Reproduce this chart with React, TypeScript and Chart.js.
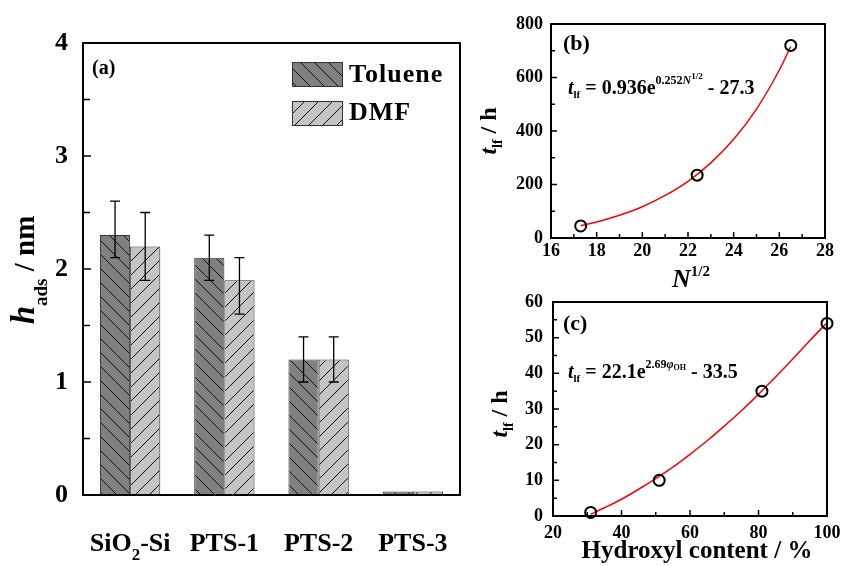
import React, { useEffect, useRef } from 'react';
import { Chart, registerables } from 'chart.js';

Chart.register(...registerables);

const FAMILY = "'Liberation Serif', 'Times New Roman', serif";

// ---------- Panel (a) data ----------
const categories = ['SiO2-Si', 'PTS-1', 'PTS-2', 'PTS-3'];
const seriesNames = ['Toluene', 'DMF'];
const tolueneValues = [2.3, 2.1, 1.2, 0.03];
const dmfValues = [2.2, 1.9, 1.2, 0.03];
const tolueneErrLow: (number | null)[] = [2.1, 1.9, 1.0, null];
const tolueneErrHigh: (number | null)[] = [2.6, 2.3, 1.4, null];
const dmfErrLow: (number | null)[] = [1.9, 1.6, 1.0, null];
const dmfErrHigh: (number | null)[] = [2.5, 2.1, 1.4, null];
const aYMajor = [0, 1, 2, 3, 4];
const aYMinor = [0.5, 1.5, 2.5, 3.5];

// ---------- Panel (b) data ----------
const bPointsX = [17.3, 22.4, 26.5];
const bPointsY = [45, 235, 720];
const bCurveX = [17.3, 18, 19, 20, 21, 22, 23, 24, 25, 26, 26.5];
const bCurveY = [46, 60, 85, 117, 159, 212, 281, 369, 482, 628, 716];
const bXMajor = [16, 18, 20, 22, 24, 26, 28];
const bXMinor = [17, 19, 21, 23, 25, 27];
const bYMajor = [0, 200, 400, 600, 800];
const bYMinor = [100, 300, 500, 700];

// ---------- Panel (c) data ----------
const cPointsX = [31, 51, 81, 100];
const cPointsY = [1, 10, 35, 54];
const cCurveX = [31, 35, 40, 45, 50, 55, 60, 65, 70, 75, 80, 85, 90, 95, 100];
const cCurveY = [0.5, 2.3, 4.7, 7.5, 10.5, 13.7, 17.3, 21.1, 25.2, 29.5, 34.1, 39.0, 44.0, 49.2, 54.2];
const cXMajor = [20, 40, 60, 80, 100];
const cXMinor = [30, 50, 70, 90];
const cYMajor = [0, 10, 20, 30, 40, 50, 60];
const cYMinor = [5, 15, 25, 35, 45, 55];

type Run = { t: string; size: number; italic?: boolean; dy?: number };

function drawRich(ctx: CanvasRenderingContext2D, runs: Run[], x: number, y: number, align: 'left' | 'center', spacing = 0) {
  const fonts = runs.map(r => `${r.italic ? 'italic ' : ''}bold ${r.size}px ${FAMILY}`);
  (ctx as any).letterSpacing = spacing + 'px';
  let w = 0;
  runs.forEach((r, i) => { ctx.font = fonts[i]; w += ctx.measureText(r.t).width; });
  let cx = align === 'center' ? x - w / 2 : x;
  ctx.textAlign = 'left';
  ctx.textBaseline = 'alphabetic';
  ctx.fillStyle = '#000';
  runs.forEach((r, i) => {
    ctx.font = fonts[i];
    ctx.fillText(r.t, cx, y + (r.dy || 0));
    cx += ctx.measureText(r.t).width;
  });
  (ctx as any).letterSpacing = '0px';
}

function drawRotated(ctx: CanvasRenderingContext2D, runs: Run[], x: number, y: number) {
  ctx.save();
  ctx.translate(x, y);
  ctx.rotate(-Math.PI / 2);
  drawRich(ctx, runs, 0, 0, 'center');
  ctx.restore();
}

function drawFrameTicks(chart: any, t: { xMajor: number[]; xMinor: number[]; yMajor: number[]; yMinor: number[]; major: number; minor: number }) {
  const { ctx, chartArea: a } = chart;
  const xs = chart.scales.x;
  const ys = chart.scales.y;
  ctx.save();
  ctx.strokeStyle = '#000';
  ctx.lineWidth = 1.5;
  ctx.beginPath();
  t.yMajor.forEach(v => { const y = ys.getPixelForValue(v); ctx.moveTo(a.left, y); ctx.lineTo(a.left + t.major, y); });
  t.yMinor.forEach(v => { const y = ys.getPixelForValue(v); ctx.moveTo(a.left, y); ctx.lineTo(a.left + t.minor, y); });
  t.xMajor.forEach(v => { const x = xs.getPixelForValue(v); ctx.moveTo(x, a.bottom); ctx.lineTo(x, a.bottom - t.major); });
  t.xMinor.forEach(v => { const x = xs.getPixelForValue(v); ctx.moveTo(x, a.bottom); ctx.lineTo(x, a.bottom - t.minor); });
  ctx.stroke();
  ctx.lineWidth = 2;
  ctx.strokeRect(a.left, a.top, a.right - a.left, a.bottom - a.top);
  ctx.restore();
}

function makeHatch(ctx: CanvasRenderingContext2D, bg: string, back: boolean): CanvasPattern {
  const s = 14;
  const c = document.createElement('canvas');
  c.width = s; c.height = s;
  const g = c.getContext('2d')!;
  g.fillStyle = bg;
  g.fillRect(0, 0, s, s);
  g.strokeStyle = '#111';
  g.lineWidth = 1;
  g.beginPath();
  for (const k of [-1, 0, 1]) {
    if (back) { g.moveTo(k * s, 0); g.lineTo(k * s + s, s); }
    else { g.moveTo(k * s, s); g.lineTo(k * s + s, 0); }
  }
  g.stroke();
  return ctx.createPattern(c, 'repeat')!;
}

function labelRuns(label: string, size: number): Run[] {
  const m = label.match(/^(.*O)(2)(.*)$/);
  if (m) return [{ t: m[1], size }, { t: m[2], size: 17, dy: 9 }, { t: m[3], size }];
  return [{ t: label, size }];
}

const tickFont = (size: number) => ({ family: FAMILY, size, weight: 'bold' as const });

function PanelA() {
  const ref = useRef<HTMLCanvasElement>(null);
  useEffect(() => {
    const canvas = ref.current!;
    const ctx = canvas.getContext('2d')!;
    const patT = makeHatch(ctx, '#808080', true);
    const patD = makeHatch(ctx, '#c4c4c4', false);
    const errs = [
      { low: tolueneErrLow, high: tolueneErrHigh },
      { low: dmfErrLow, high: dmfErrHigh },
    ];
    const errPlugin = {
      id: 'errbars',
      afterDatasetsDraw(chart: any) {
        const c = chart.ctx;
        const ys = chart.scales.y;
        c.save();
        c.strokeStyle = '#000';
        c.lineWidth = 1.3;
        chart.data.datasets.forEach((_: any, di: number) => {
          const meta = chart.getDatasetMeta(di);
          meta.data.forEach((bar: any, i: number) => {
            const lo = errs[di].low[i];
            const hi = errs[di].high[i];
            if (lo == null || hi == null) return;
            const x = bar.x;
            const yl = ys.getPixelForValue(lo);
            const yh = ys.getPixelForValue(hi);
            c.beginPath();
            c.moveTo(x, yl); c.lineTo(x, yh);
            c.moveTo(x - 5, yl); c.lineTo(x + 5, yl);
            c.moveTo(x - 5, yh); c.lineTo(x + 5, yh);
            c.stroke();
          });
        });
        c.restore();
      },
    };
    const decor = {
      id: 'decor',
      afterDraw(chart: any) {
        const c = chart.ctx;
        drawFrameTicks(chart, { xMajor: [], xMinor: [], yMajor: aYMajor, yMinor: aYMinor, major: 8, minor: 7 });
        c.save();
        const pats = [patT, patD];
        const boxes = [62, 101];
        const bases = [82, 120];
        seriesNames.forEach((n, i) => {
          c.fillStyle = pats[i];
          c.fillRect(292, boxes[i], 50, 24);
          c.strokeStyle = '#333';
          c.lineWidth = 1;
          c.strokeRect(292.5, boxes[i] + 0.5, 50, 24);
          drawRich(c, [{ t: n, size: 26 }], 349, bases[i], 'left', 1);
        });
        drawRich(c, [{ t: '(a)', size: 20 }], 92, 74, 'left');
        const xs = chart.scales.x;
        categories.forEach((cat, i) => {
          drawRich(c, labelRuns(cat, 26), xs.getPixelForValue(i), 551, 'center');
        });
        drawRotated(c, [
          { t: 'h', size: 33, italic: true },
          { t: 'ads', size: 19, dy: 13 },
          { t: ' / nm', size: 29 },
        ], 34, 270);
        c.restore();
      },
    };
    const chart = new Chart(canvas, {
      type: 'bar',
      data: {
        labels: categories,
        datasets: [
          { label: seriesNames[0], data: tolueneValues, backgroundColor: patT as any, borderColor: '#333', borderWidth: 1, categoryPercentage: 0.64, barPercentage: 1 },
          { label: seriesNames[1], data: dmfValues, backgroundColor: patD as any, borderColor: '#333', borderWidth: 1, categoryPercentage: 0.64, barPercentage: 1 },
        ],
      },
      options: {
        responsive: false,
        animation: false,
        devicePixelRatio: 1,
        layout: { padding: { left: 0, right: 10, top: 43, bottom: 0 } },
        plugins: { legend: { display: false }, tooltip: { enabled: false } },
        scales: {
          x: {
            grid: { display: false, drawTicks: false },
            border: { display: false },
            ticks: { display: false },
            afterFit(s: any) { s.height = 71; s.paddingLeft = 0; s.paddingRight = 0; },
          },
          y: {
            min: 0, max: 4,
            grid: { display: false, drawTicks: false },
            border: { display: false },
            ticks: { stepSize: 1, font: tickFont(26), color: '#000', padding: 15 },
            afterFit(s: any) { s.width = 83; s.paddingTop = 0; s.paddingBottom = 0; },
          },
        },
      } as any,
      plugins: [errPlugin, decor],
    });
    return () => chart.destroy();
  }, []);
  return <canvas ref={ref} width={470} height={566} style={{ position: 'absolute', left: 0, top: 0, width: 470, height: 566 }} />;
}

type ScatterCfg = {
  px: number[]; py: number[]; cx: number[]; cy: number[];
  xMin: number; xMax: number; xStep: number; yMin: number; yMax: number; yStep: number;
  xMajor: number[]; xMinor: number[]; yMajor: number[]; yMinor: number[];
  padRight: number; padTop: number; yWidth: number; xHeight: number; yPad: number; xPad: number;
  draw: (c: CanvasRenderingContext2D, chart: any) => void;
};

function ScatterPanel({ cfg, left, top, width, height }: { cfg: ScatterCfg; left: number; top: number; width: number; height: number }) {
  const ref = useRef<HTMLCanvasElement>(null);
  useEffect(() => {
    const canvas = ref.current!;
    const decor = {
      id: 'decor',
      afterDraw(chart: any) {
        drawFrameTicks(chart, { xMajor: cfg.xMajor, xMinor: cfg.xMinor, yMajor: cfg.yMajor, yMinor: cfg.yMinor, major: 6, minor: 4 });
        chart.ctx.save();
        cfg.draw(chart.ctx, chart);
        chart.ctx.restore();
      },
    };
    const chart = new Chart(canvas, {
      type: 'line',
      data: {
        datasets: [
          {
            label: 'data',
            data: cfg.px.map((x, i) => ({ x, y: cfg.py[i] })),
            showLine: false,
            pointRadius: 5.5,
            pointBorderWidth: 2,
            pointBorderColor: '#000',
            pointBackgroundColor: 'rgba(0,0,0,0)',
            borderColor: '#000',
            clip: false,
            order: 1,
          },
          {
            label: 'fit',
            data: cfg.cx.map((x, i) => ({ x, y: cfg.cy[i] })),
            borderColor: '#ff0000',
            borderWidth: 1.5,
            pointRadius: 0,
            cubicInterpolationMode: 'monotone',
            fill: false,
            order: 2,
          },
        ],
      },
      options: {
        responsive: false,
        animation: false,
        devicePixelRatio: 1,
        layout: { padding: { left: 0, right: cfg.padRight, top: cfg.padTop, bottom: 0 } },
        plugins: { legend: { display: false }, tooltip: { enabled: false } },
        scales: {
          x: {
            type: 'linear', min: cfg.xMin, max: cfg.xMax,
            grid: { display: false, drawTicks: false },
            border: { display: false },
            ticks: { stepSize: cfg.xStep, font: tickFont(18), color: '#000', padding: cfg.xPad, maxRotation: 0, autoSkip: false },
            afterFit(s: any) { s.height = cfg.xHeight; s.paddingLeft = 0; s.paddingRight = 0; },
          },
          y: {
            type: 'linear', min: cfg.yMin, max: cfg.yMax,
            grid: { display: false, drawTicks: false },
            border: { display: false },
            ticks: { stepSize: cfg.yStep, font: tickFont(18), color: '#000', padding: cfg.yPad },
            afterFit(s: any) { s.width = cfg.yWidth; s.paddingTop = 0; s.paddingBottom = 0; },
          },
        },
      } as any,
      plugins: [decor],
    });
    return () => chart.destroy();
  }, []);
  return <canvas ref={ref} width={width} height={height} style={{ position: 'absolute', left, top, width, height }} />;
}

const cfgB: ScatterCfg = {
  px: bPointsX, py: bPointsY, cx: bCurveX, cy: bCurveY,
  xMin: 16, xMax: 28, xStep: 2, yMin: 0, yMax: 800, yStep: 200,
  xMajor: bXMajor, xMinor: bXMinor, yMajor: bYMajor, yMinor: bYMinor,
  padRight: 16, padTop: 24, yWidth: 81, xHeight: 52, yPad: 8, xPad: 3,
  draw(c) {
    drawRich(c, [{ t: '(b)', size: 22 }], 93, 50, 'left');
    drawRich(c, [
      { t: 't', size: 20, italic: true },
      { t: 'lf', size: 11, dy: 4 },
      { t: ' = 0.936e', size: 20 },
      { t: '0.252', size: 12, dy: -10 },
      { t: 'N', size: 12, italic: true, dy: -10 },
      { t: '1/2', size: 9, dy: -15 },
      { t: ' - 27.3', size: 20 },
    ], 98, 94, 'left');
    drawRich(c, [
      { t: 'N', size: 26, italic: true },
      { t: '1/2', size: 15, dy: -11 },
    ], 221, 287, 'center');
    drawRotated(c, [
      { t: 't', size: 24, italic: true },
      { t: 'lf', size: 14, dy: 6 },
      { t: ' / h', size: 24 },
    ], 26, 131);
  },
};

const cfgC: ScatterCfg = {
  px: cPointsX, py: cPointsY, cx: cCurveX, cy: cCurveY,
  xMin: 20, xMax: 100, xStep: 20, yMin: 0, yMax: 60, yStep: 10,
  xMajor: cXMajor, xMinor: cXMinor, yMajor: cYMajor, yMinor: cYMinor,
  padRight: 14, padTop: 12, yWidth: 83, xHeight: 50, yPad: 10, xPad: 7,
  draw(c) {
    drawRich(c, [{ t: '(c)', size: 22 }], 93, 40, 'left');
    drawRich(c, [
      { t: 't', size: 20, italic: true },
      { t: 'lf', size: 11, dy: 4 },
      { t: ' = 22.1e', size: 20 },
      { t: '2.69', size: 12, dy: -10 },
      { t: 'φ', size: 12, italic: true, dy: -10 },
      { t: 'OH', size: 8, dy: -8 },
      { t: ' - 33.5', size: 20 },
    ], 98, 88, 'left');
    drawRich(c, [{ t: 'Hydroxyl content / %', size: 25 }], 227, 268, 'center');
    drawRotated(c, [
      { t: 't', size: 24, italic: true },
      { t: 'lf', size: 14, dy: 6 },
      { t: ' / h', size: 24 },
    ], 37, 124);
  },
};

export default function App() {
  return (
    <div style={{ position: 'fixed', left: 0, top: 0, width: 841, height: 566, background: '#fff', overflow: 'hidden' }}>
      <PanelA />
      <ScatterPanel cfg={cfgB} left={470} top={0} width={371} height={290} />
      <ScatterPanel cfg={cfgC} left={470} top={290} width={371} height={276} />
    </div>
  );
}
